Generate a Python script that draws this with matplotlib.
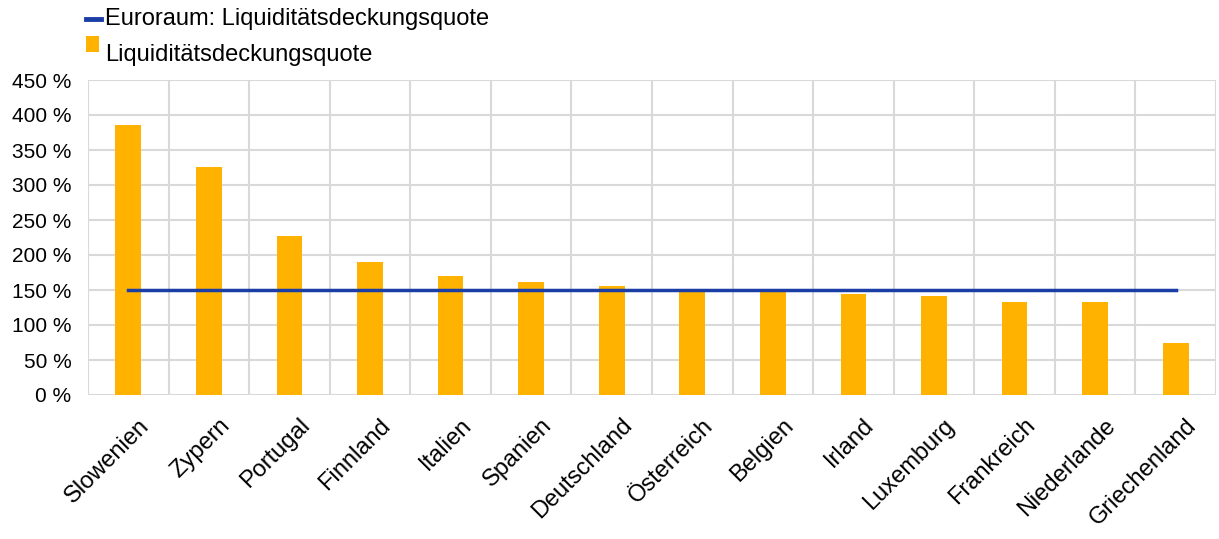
import matplotlib
matplotlib.use("Agg")
import matplotlib.pyplot as plt
from matplotlib.patches import Rectangle
from matplotlib.lines import Line2D
import numpy as np

plt.rcParams['font.family'] = ['Liberation Sans', 'DejaVu Sans']

countries = ['Slowenien', 'Zypern', 'Portugal', 'Finnland', 'Italien', 'Spanien',
             'Deutschland', 'Österreich', 'Belgien', 'Irland', 'Luxemburg',
             'Frankreich', 'Niederlande', 'Griechenland']
lcr = [386, 326, 227, 190, 170, 162, 156, 150, 150, 145, 142, 133, 133, 74]
euro_area = 150
yticks = [0, 50, 100, 150, 200, 250, 300, 350, 400, 450]

bar_color = '#FFB300'
line_color = '#1B3DA6'
grid_color = '#D9D9D9'

W, H = 1219, 539
fig = plt.figure(figsize=(W / 100, H / 100), dpi=100)
ax = fig.add_axes([88 / W, 1 - 395 / H, 1128 / W, 315 / H])

x = np.arange(len(countries))
ax.bar(x, lcr, width=0.32, color=bar_color, zorder=2)
ax.plot([x[0], x[-1]], [euro_area, euro_area], color=line_color, lw=2.5, zorder=3)

ax.set_xlim(-0.5, len(countries) - 0.5)
ax.set_ylim(0, 450)
ax.set_yticks(yticks)
ax.set_yticklabels(['%d %%' % v for v in yticks], fontsize=15)
# labels sit a bit right of the bar centre in the original (ticks are hidden)
ax.set_xticks(x + 0.12)
ax.set_xticklabels(countries, rotation=45, ha='right', rotation_mode='anchor', fontsize=17)

for v in yticks:
    ax.axhline(v, color=grid_color, lw=1.5, zorder=0)
for b in np.arange(len(countries) + 1) - 0.5:
    ax.axvline(b, color=grid_color, lw=1.5, zorder=0)
for s in ax.spines.values():
    s.set_visible(False)
ax.tick_params(axis='both', which='both', length=0)
ax.tick_params(axis='y', pad=12)
ax.tick_params(axis='x', pad=14)

# legend drawn by hand in pixel coords
fig.add_artist(Line2D([86 / W, 101 / W], [1 - 19 / H, 1 - 19 / H],
                      color=line_color, lw=3.5, transform=fig.transFigure))
fig.text(105 / W, 1 - 19 / H, 'Euroraum: Liquiditätsdeckungsquote',
         fontsize=17, va='center', ha='left')
fig.add_artist(Rectangle((86 / W, 1 - 52 / H), 13 / W, 16 / H,
                         facecolor=bar_color, edgecolor='none',
                         transform=fig.transFigure))
fig.text(105 / W, 1 - 55 / H, 'Liquiditätsdeckungsquote',
         fontsize=17, va='center', ha='left')

fig.savefig('out.png', dpi=100, facecolor='white')
